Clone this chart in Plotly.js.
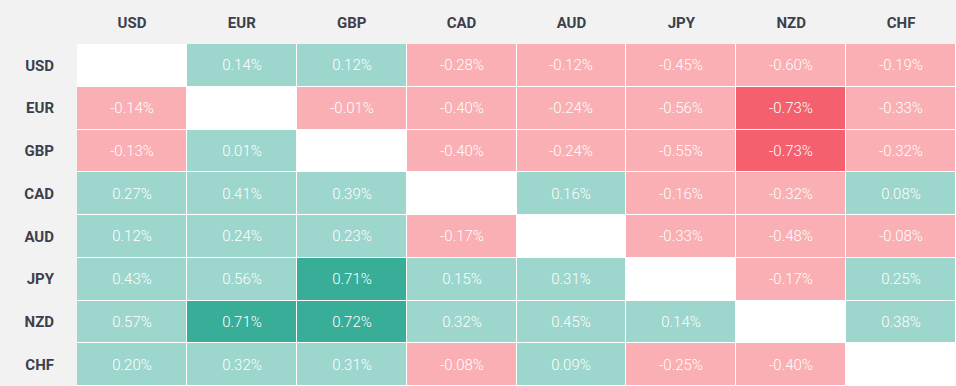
<!DOCTYPE html>
<html>
<head>
<meta charset="utf-8">
<script src="https://cdn.plot.ly/plotly-3.0.1.min.js"></script>
<style>html,body{margin:0;padding:0;background:#fff;}#chart{width:956px;height:386px;}</style>
</head>
<body>
<div id="chart"></div>
<script>
const currencies = ['USD', 'EUR', 'GBP', 'CAD', 'AUD', 'JPY', 'NZD', 'CHF'];
const USD = [null, 0.14, 0.12, -0.28, -0.12, -0.45, -0.60, -0.19];
const EUR = [-0.14, null, -0.01, -0.40, -0.24, -0.56, -0.73, -0.33];
const GBP = [-0.13, 0.01, null, -0.40, -0.24, -0.55, -0.73, -0.32];
const CAD = [0.27, 0.41, 0.39, null, 0.16, -0.16, -0.32, 0.08];
const AUD = [0.12, 0.24, 0.23, -0.17, null, -0.33, -0.48, -0.08];
const JPY = [0.43, 0.56, 0.71, 0.15, 0.31, null, -0.17, 0.25];
const NZD = [0.57, 0.71, 0.72, 0.32, 0.45, 0.14, null, 0.38];
const CHF = [0.20, 0.32, 0.31, -0.08, 0.09, -0.25, -0.40, null];

const z = [USD, EUR, GBP, CAD, AUD, JPY, NZD, CHF];
const text = z.map(r => r.map(v => v === null ? '' : v.toFixed(2) + '%'));

const trace = {
  type: 'heatmap',
  x: currencies,
  y: currencies,
  z: z,
  text: text,
  texttemplate: '%{text}',
  textfont: {family: 'Roboto', size: 15, color: '#ffffff', weight: 300},
  zmin: -1, zmax: 1,
  colorscale: [
    [0, '#f5606e'], [0.15, '#f5606e'],
    [0.15, '#f9afb4'], [0.5, '#f9afb4'],
    [0.5, '#9dd6cc'], [0.85, '#9dd6cc'],
    [0.85, '#38ad98'], [1, '#38ad98']
  ],
  showscale: false,
  xgap: 1, ygap: 1,
  hoverinfo: 'skip'
};

const layout = {
  width: 956, height: 386,
  margin: {l: 77, r: 0, t: 44, b: 0},
  paper_bgcolor: '#f2f2f2',
  plot_bgcolor: '#ffffff',
  xaxis: {
    side: 'top', type: 'category', showgrid: false, zeroline: false, ticks: '',
    tickfont: {family: 'Roboto', size: 15, color: '#3c3f4c', weight: 'bold'},
    ticklabelstandoff: 12
  },
  yaxis: {
    type: 'category', autorange: 'reversed', showgrid: false, zeroline: false, ticks: '',
    tickfont: {family: 'Roboto', size: 15, color: '#3c3f4c', weight: 'bold'},
    ticklabelstandoff: 22
  },
  font: {family: 'Roboto'}
};

Plotly.newPlot('chart', [trace], layout, {displayModeBar: false, staticPlot: true});
</script>
</body>
</html>
